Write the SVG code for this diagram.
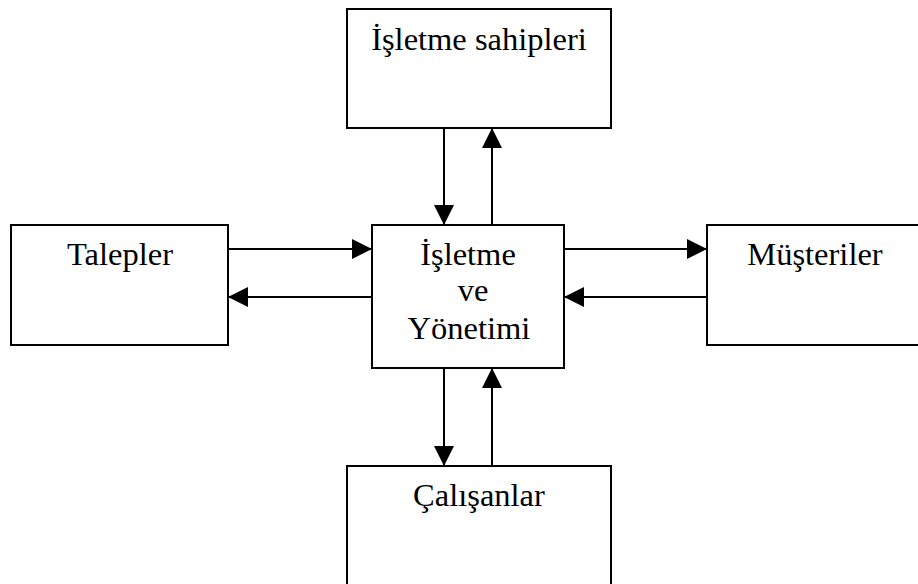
<svg xmlns="http://www.w3.org/2000/svg" width="918" height="584" viewBox="0 0 918 584">
<style>
.box{fill:#fff;stroke:#000;stroke-width:2}
.t{font-family:"Liberation Serif","Times New Roman",serif;font-size:32.5px;fill:#000;text-anchor:middle}
.c{stroke:#000;stroke-width:2;fill:none;marker-end:url(#ah)}
</style>
<defs>
<marker id="ah" markerUnits="userSpaceOnUse" markerWidth="20" markerHeight="20" refX="20" refY="10" orient="auto">
<path d="M0,0 L20,10 L0,20 Z" fill="#000"/>
</marker>
</defs>
<rect width="918" height="584" fill="#fff"/>
<g id="owners"><rect class="box" x="347" y="9" width="264" height="119"/><text class="t" x="479" y="50">İşletme sahipleri</text></g>
<g id="demands"><rect class="box" x="11" y="225" width="217" height="120"/><text class="t" x="120" y="265">Talepler</text></g>
<g id="center"><rect class="box" x="372" y="225" width="192" height="143"/>
<text class="t" x="468" y="265">İşletme</text>
<text class="t" x="473" y="301">ve</text>
<text class="t" x="469" y="339">Yönetimi</text></g>
<g id="customers"><rect class="box" x="707" y="225" width="216" height="120"/><text class="t" x="815" y="265">Müşteriler</text></g>
<g id="employees"><rect class="box" x="347" y="466" width="264" height="130"/><text class="t" x="479" y="506">Çalışanlar</text></g>
<g id="connectors">
<path class="c" d="M444,128 L444,225"/>
<path class="c" d="M492,225 L492,128"/>
<path class="c" d="M228,249 L372,249"/>
<path class="c" d="M372,297 L228,297"/>
<path class="c" d="M564,249 L707,249"/>
<path class="c" d="M707,297 L564,297"/>
<path class="c" d="M444,368 L444,466"/>
<path class="c" d="M492,466 L492,368"/>
</g>
</svg>
